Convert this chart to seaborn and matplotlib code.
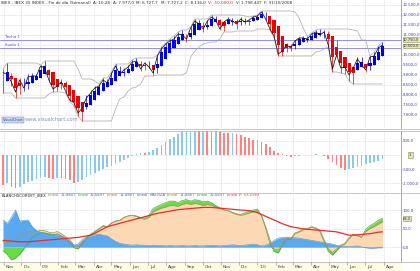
import numpy as np
import pandas as pd
import matplotlib
matplotlib.use("Agg")
import matplotlib.pyplot as plt
import matplotlib.transforms as mtransforms
import seaborn as sns

sns.set_theme(style="white")
plt.rcParams["font.family"] = ["Liberation Sans Narrow", "DejaVu Sans"]

# ---------------- data ----------------
start_date = "2008-10-31"
first_open = 8300
close = [9116, 9050, 8650, 8150, 8750, 8350, 8900, 8950, 8950, 9450,
         9350, 8750, 8300, 8450, 8650, 8200, 7750, 7620, 7100, 7350,
         7850, 8100, 8350, 8450, 8750, 8600, 9050, 9450, 9050, 9250,
         9400, 9650, 9700, 9300, 9600, 9400, 9100, 9950, 10300, 10550,
         10700, 10800, 11050, 11000, 10800, 11350, 11700, 11550, 11300, 11700,
         11900, 11750, 11300, 11650, 11800, 11700, 11550, 11800, 11650, 11750,
         11900, 11950, 12150, 11800, 11300, 10950, 10050, 10200, 10500, 10350,
         10700, 10850, 10850, 10800, 11050, 11150, 11000, 11150, 10500, 9300,
         10000, 9350, 9400, 9000, 9350, 9800, 9500, 9250, 9900, 9950,
         10350, 10500]
high = [9300, 9600, 9100, 8700, 8850, 8850, 9050, 9100, 9050, 9500,
        9700, 9300, 8800, 8600, 8800, 8700, 8200, 7850, 7650, 7500,
        8000, 8250, 8450, 8550, 8850, 8800, 9150, 9550, 9450, 9350,
        9500, 9750, 9850, 9700, 9650, 9700, 9450, 10000, 10400, 10600,
        10800, 10950, 11150, 11250, 11050, 11400, 11800, 11750, 11650, 11750,
        12000, 11950, 11800, 11700, 11900, 11850, 11800, 11900, 11850, 11800,
        11950, 12000, 12200, 12150, 11850, 11350, 10950, 10350, 10600, 10550,
        10750, 10900, 10950, 10950, 11100, 11250, 11300, 11250, 11200, 10550,
        10750, 9950, 9550, 9500, 9400, 9900, 9900, 9550, 9950, 10150,
        10450, 10650]
low = [8100, 8900, 8450, 7850, 8050, 8200, 8300, 8750, 8850, 9000,
       9250, 8650, 8150, 8200, 8300, 8100, 7700, 7450, 6950, 6700,
       7300, 7800, 7900, 8200, 8350, 8400, 8550, 9000, 8950, 8950,
       9150, 9400, 9500, 9200, 9250, 9350, 9000, 9100, 9900, 10200,
       10400, 10550, 10600, 10950, 10650, 10800, 11300, 11400, 11150, 11300,
       11650, 11650, 11250, 11200, 11600, 11500, 11300, 11500, 11550, 11500,
       11700, 11850, 11900, 11750, 11250, 10850, 9950, 9950, 10150, 10200,
       10300, 10650, 10700, 10650, 10800, 11000, 10950, 10850, 10400, 9150,
       9950, 9100, 9050, 8700, 8550, 9300, 9400, 9150, 9250, 9800,
       9900, 10300]
macd = [-1070, -1000, -1130, -1190, -1150, -1050, -980, -930, -860, -820,
        -800, -830, -850, -820, -830, -860, -900, -1000, -950, -880,
        -800, -720, -640, -560, -500, -430, -380, -330, -260, -190,
        -110, -40, 20, 70, 60, 120, 170, 250, 350, 450,
        560, 650, 750, 820, 860, 900, 920, 880, 900, 880,
        850, 860, 830, 800, 780, 800, 750, 700, 650, 600,
        520, 540, 450, 380, 300, 160, 60, 20, -40, -60,
        -30, -20, -10, -15, 10, 20, 15, -40, -150, -250,
        -350, -450, -540, -500, -470, -420, -380, -320, -280, -250,
        -200, -160]
score_blue = [73, 64, 80, 100, 70, 72, 73, 55, 45, 40,
              38, 36, 35, 33, 30, 25, 15, 5, 8, 20,
              28, 30, 33, 35, 32, 30, 22, 15, 10, 8,
              6, 5, 6, 5, 5, 4, 5, 4, 4, 3,
              4, 3, 3, 4, 3, 3, 4, 3, 3, 4,
              5, 4, 3, 4, 5, 6, 5, 4, 5, 7,
              8, 6, 3, 5, 10, 18, 24, 26, 27, 26,
              25, 24, 22, 20, 18, 16, 14, 12, 10, 8,
              5, 3, 2, 1, 2, 3, 0, -2, -3, -3,
              -2, -2]
score_green = [-10, -20, -35, -30, -20, -5, 10, 25, 33, 38,
               38, 34, 32, 36, 30, 22, 14, -2, -5, 8,
               22, 33, 40, 48, 56, 54, 64, 70, 72, 80,
               84, 86, 84, 80, 78, 86, 104, 110, 115, 120,
               124, 124, 120, 126, 128, 124, 128, 126, 122, 124,
               120, 112, 106, 100, 98, 94, 90, 88, 92, 96,
               100, 102, 85, 50, 10, -12, -16, 4, 22, 20,
               36, 40, 46, 48, 54, 50, 42, 15, -12, -22,
               -10, 2, 8, 22, 34, 30, 26, 48, 58, 64,
               72, 78]
score_orange = [14, 10, 20, 15, 30, 35, 38, 40, 42, 45,
                44, 40, 38, 42, 36, 28, 20, 5, 0, 12,
                25, 35, 42, 50, 58, 55, 65, 70, 72, 80,
                84, 86, 82, 78, 75, 80, 95, 100, 105, 108,
                112, 112, 110, 115, 118, 115, 118, 116, 112, 115,
                113, 108, 105, 100, 98, 92, 88, 86, 88, 92,
                95, 98, 85, 55, 20, -5, -8, 10, 25, 22,
                38, 42, 48, 50, 55, 52, 45, 20, -5, -15,
                -5, 5, 10, 25, 35, 32, 28, 42, 50, 55,
                62, 68]
score_red = [18, 17, 16, 15, 14, 14, 14, 15, 16, 17,
             18, 19, 20, 21, 22, 23, 24, 25, 26, 28,
             30, 32, 37, 43, 49, 55, 58, 61, 64, 67,
             70, 73, 76, 79, 82, 85, 88, 91, 93, 95,
             97, 99, 101, 102, 103, 104, 105, 106, 107, 107,
             107, 106, 105, 104, 103, 102, 101, 100, 99, 98,
             96, 93, 88, 83, 78, 73, 68, 63, 59, 55,
             53, 51, 49, 48, 47, 46, 45, 44, 43, 42,
             41, 38, 35, 32, 32, 33, 34, 35, 36, 38,
             40, 41]
support_levels = [10750, 10350]
support_names = ["Techo 1", "Suelo 1"]
month_starts = ["2008-11-01", "2008-12-01", "2009-01-01", "2009-02-01", "2009-03-01",
                "2009-04-01", "2009-05-01", "2009-06-01", "2009-07-01", "2009-08-01",
                "2009-09-01", "2009-10-01", "2009-11-01", "2009-12-01", "2010-01-01",
                "2010-02-01", "2010-03-01", "2010-04-01", "2010-05-01", "2010-06-01",
                "2010-07-01", "2010-08-01"]
month_labels = ["Nov", "Dic", "'09", "Feb", "Mar", "Abr", "May", "Jun", "Jul", "Ago",
                "Sep", "Oct", "Nov", "Dic", "'10", "Feb", "Mar", "Abr", "May", "Jun",
                "Jul", "Ago"]
price_ticks = [7000, 7500, 8000, 8500, 9000, 9500, 10000, 11000, 11500, 12000, 12500]
macd_ticks = [500, -500, -1000]
score_ticks = [100, 50, 0]
price_header = [("IBEX - IBEX 35 INDEX - Fin de día (Semanal)", "#303030"),
                ("A: 10,28", "#303030"), ("A: 7.977,0", "#303030"), ("M: 6.727,7", "#303030"),
                ("M: 7.727,2", "#303030"), ("C: 8.116,0", "#303030"),
                ("V: -10.000,0", "#e02020"), ("V: 1.798.447", "#303030"),
                ("F: 31/10/2008", "#303030")]
score_header = [("BLANCHSCORDET_IBEX", "#202020"), ("Lineal", "#a08040"), ("11,8807", "#4060c0"),
                ("Lineal", "#40a040"), ("32,6697", "#4060c0"), ("Lineal", "#a08040"),
                ("11,8807", "#4060c0"), ("Lineal", "#4060c0"), ("MACRZA", "#4060c0"),
                ("Lineal", "#a08040"), ("11,8807", "#4060c0"), ("Lineal", "#40a040"),
                ("32,6697", "#4060c0"), ("Lineal", "#e04040"), ("P: 53,2983", "#e04040")]

# ---------------- derived ----------------
n = len(close)
x = np.arange(n)
c = np.array(close, float)
h = np.array(high, float)
l = np.array(low, float)
o = np.concatenate([[first_open], c[:-1]])
df = pd.DataFrame({"x": x, "open": o, "high": h, "low": l, "close": c})
ha_close = (df.open + df.high + df.low + df.close) / 4
ha_open = np.zeros(n)
ha_open[0] = (o[0] + c[0]) / 2
for i in range(1, n):
    ha_open[i] = (ha_open[i - 1] + ha_close[i - 1]) / 2
df["ha_open"] = ha_open
df["ha_close"] = ha_close
df["ha_high"] = np.maximum.reduce([h, ha_open, ha_close])
df["ha_low"] = np.minimum.reduce([l, ha_open, ha_close])
df["up"] = df.ha_close >= df.ha_open
df["band_hi"] = df.high.rolling(8, min_periods=1).max()
df["band_lo"] = df.low.rolling(8, min_periods=1).min()

t0 = pd.Timestamp(start_date)
month_pos = [(pd.Timestamp(m) - t0).days / 7.0 for m in month_starts]

def es_fmt(v, dec=1):
    s = f"{v:,.{dec}f}"
    return s.replace(",", "X").replace(".", ",").replace("X", ".")

# ---------------- figure ----------------
W, H = 420, 271
fig = plt.figure(figsize=(W / 100, H / 100), dpi=100)
fig.patch.set_facecolor("white")
renderer = fig.canvas.get_renderer()

def fy(y):
    return 1 - y / H

def chain(ax, x0, y, items, fs, gap_px=2.0):
    xa = x0
    for txt, col in items:
        t = ax.text(xa, y, txt, transform=ax.transAxes, fontsize=fs, color=col,
                    va="top", ha="left")
        bb = t.get_window_extent(renderer)
        xa = ax.transAxes.inverted().transform((bb.x1 + gap_px, bb.y0))[0]

RIGHT = 401
XL = (-0.72, (RIGHT - 3) / 4.17)
ax1 = fig.add_axes([0, fy(128), RIGHT / W, 128 / H])
ax2 = fig.add_axes([0, fy(192), RIGHT / W, (192 - 131) / H])
ax3 = fig.add_axes([0, fy(262), RIGHT / W, (262 - 193) / H])
axs = fig.add_axes([0, 0, RIGHT / W, (H - 262) / H])

grid_c = "#e9e9ee"
lab_c = "#4040a0"
BOX = dict(boxstyle="square,pad=0.12", fc="#e6e6b8", ec="#8a8a60", lw=0.4)
for ax in (ax1, ax2, ax3):
    ax.set_facecolor("white")
    ax.set_xlim(*XL)
    for p in month_pos:
        ax.axvline(p, color=grid_c, lw=0.5, zorder=0)
    ax.set_xticks([])
    ax.yaxis.tick_right()
    ax.tick_params(axis="y", which="both", length=0.8, width=0.4, pad=0.3,
                   labelsize=2.8, labelcolor=lab_c, color="#888888", right=True)
    for s in ax.spines.values():
        s.set_visible(False)
    ax.spines["right"].set_visible(True)
    ax.spines["right"].set_color("#9a9a9a")
    ax.spines["right"].set_linewidth(0.6)

# ---- price panel ----
ax1.set_ylim(6350, 12750)
ax1.set_yticks(price_ticks)
ax1.set_yticklabels([es_fmt(v) for v in price_ticks])
for v in price_ticks + [10500]:
    ax1.axhline(v, color=grid_c, lw=0.5, zorder=0)
sns.lineplot(data=df, x="x", y="band_hi", ax=ax1, color="#a8a8a8", lw=0.5, zorder=2)
sns.lineplot(data=df, x="x", y="band_lo", ax=ax1, color="#a8a8a8", lw=0.5, zorder=2)
for lev in support_levels:
    ax1.axhline(lev, color="#8c8cff", lw=0.7, zorder=1)
cols = np.where(df.up, "#0000f0", "#f00000")
ax1.vlines(df.x, df.ha_low, df.ha_high, colors=cols, lw=0.5, zorder=3)
ax1.bar(df.x, df.ha_close - df.ha_open, bottom=df.ha_open, width=0.75,
        color=cols, linewidth=0, zorder=4)
sns.lineplot(data=df, x="x", y="close", ax=ax1, color="#111111", lw=0.55, zorder=5)
ax1.set_xlabel(""); ax1.set_ylabel("")
ax1.set_xlim(*XL)
for lev, name in zip(support_levels, support_names):
    ax1.text(0.5, lev + 40, name, fontsize=2.8, color="#5050c0", va="bottom", ha="left")
chain(ax1, 0.003, 0.99, price_header, 3.0, gap_px=2.5)
ax1.text(0.007, 0.045, "VisualChart", transform=ax1.transAxes, fontsize=2.6, color="#3050a0",
         va="bottom", ha="left",
         bbox=dict(boxstyle="square,pad=0.25", fc="#c8d8ee", ec="#6080b0", lw=0.3))
ax1.text(0.062, 0.045, "www.visualchart.com", transform=ax1.transAxes, fontsize=3.6,
         color="#8090c0", va="bottom", ha="left")
tr1 = mtransforms.blended_transform_factory(ax1.transAxes, ax1.transData)
for val, dy in ((support_levels[0], 10), (close[-1], -50)):
    ax1.text(1.005, val + dy, es_fmt(val), transform=tr1, fontsize=2.6, color="#303030",
             va="center", ha="left", bbox=BOX, clip_on=False)

# ---- MACD panel ----
ax2.set_ylim(-1321, 857)
ax2.set_yticks(macd_ticks)
ax2.set_yticklabels([es_fmt(v) for v in macd_ticks])
for v in macd_ticks + [0]:
    ax2.axhline(v, color=grid_c, lw=0.5, zorder=0)
m = np.array(macd, float)
mcols = ["#ff8080" if (i == 0 or m[i] < m[i - 1]) else "#8cc8ec" for i in range(n)]
ax2.bar(x, m, width=0.4, color=mcols, linewidth=0, zorder=2)
tr2 = mtransforms.blended_transform_factory(ax2.transAxes, ax2.transData)
ax2.text(1.02, 0, "1", transform=tr2, fontsize=2.8, color="#303030", va="center", ha="left",
         bbox=dict(boxstyle="square,pad=0.3", fc="#e6e6b8", ec="#8a8a60", lw=0.4), clip_on=False)

# ---- score panel ----
ax3.set_ylim(-40.5, 146)
ax3.set_yticks(score_ticks)
ax3.set_yticklabels([es_fmt(v) for v in score_ticks])
for v in score_ticks:
    ax3.axhline(v, color=grid_c, lw=0.5, zorder=0)
sb = np.array(score_blue, float)
sg = np.array(score_green, float)
so = np.array(score_orange, float)
sr = np.array(score_red, float)
ax3.fill_between(x, 0, sg, color="#66dd44", lw=0, zorder=2)
ax3.fill_between(x, 0, so, color="#fdd8b4", lw=0, zorder=3)
ax3.fill_between(x, 0, sb, color="#5aa8ee", lw=0, zorder=4)
sdf = pd.DataFrame({"x": x, "g": sg, "o": so, "r": sr, "b": sb})
sns.lineplot(data=sdf, x="x", y="b", ax=ax3, color="#4a90d0", lw=0.4, zorder=5)
sns.lineplot(data=sdf, x="x", y="g", ax=ax3, color="#58a048", lw=0.5, zorder=6)
sns.lineplot(data=sdf, x="x", y="o", ax=ax3, color="#a89860", lw=0.6, zorder=6)
sns.lineplot(data=sdf, x="x", y="r", ax=ax3, color="#ee2a2a", lw=0.9, zorder=7)
ax3.set_xlabel(""); ax3.set_ylabel("")
ax3.set_xlim(*XL)
tr3 = mtransforms.blended_transform_factory(ax3.transAxes, ax3.transData)
ax3.text(1.005, score_orange[-1] + 8, es_fmt(score_orange[-1]), transform=tr3, fontsize=2.6,
         color="#303030", va="center", ha="left", bbox=BOX, clip_on=False)
chain(ax3, 0.003, 0.995, score_header, 2.7, gap_px=1.5)

# ---- date strip ----
axs.set_facecolor("#fffbe0")
axs.set_xlim(*XL)
axs.set_ylim(0, 1)
axs.set_xticks([]); axs.set_yticks([])
for s in axs.spines.values():
    s.set_visible(False)
for p, lab in zip(month_pos, month_labels):
    axs.plot([p, p], [0.62, 1.0], color="#808080", lw=0.4)
    axs.text(p + 0.5, 0.42, lab, fontsize=3.2, color="#404040", va="center", ha="left")

# separators
for yy in (128.5, 130.5, 192.5, 262):
    fig.add_artist(plt.Line2D([0, 1], [fy(yy), fy(yy)], color="#b0b0b0", lw=0.5))

fig.savefig("out.png", dpi=100)
